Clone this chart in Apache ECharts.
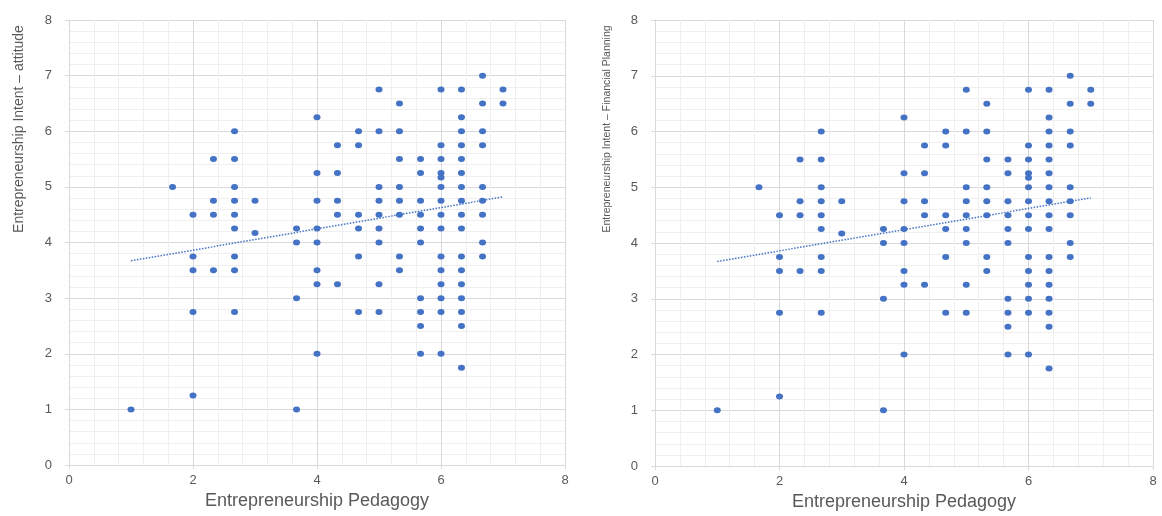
<!DOCTYPE html>
<html>
<head>
<meta charset="utf-8">
<script src="https://cdn.jsdelivr.net/npm/echarts@6/dist/echarts.min.js"></script>
<style>
html,body{margin:0;padding:0;background:#fff;}
#chart{width:1162px;height:516px;}
</style>
</head>
<body>
<div id="chart"></div>
<script>
// ---- Data ----
const xAxisTitle = "Entrepreneurship Pedagogy";
const leftYTitle = "Entrepreneurship Intent – attitude";
const rightYTitle = "Entrepreneurship Intent – Financial Planning";

// Pedagogy score levels (x) and the intent scores seen in each column
const pedagogyLevels = [1, 1.67, 2, 2.33, 2.67, 3, 3.67, 4, 4.33, 4.67, 5, 5.33, 5.67, 6, 6.33, 6.67, 7];

const attitudeByLevel = [
  [1],
  [5],
  [4.5, 3.75, 3.5, 2.75, 1.25],
  [5.5, 4.75, 4.5, 3.5],
  [6, 5.5, 5, 4.75, 4.5, 4.25, 3.75, 3.5, 2.75],
  [4.75, 4.17],
  [4.25, 4, 3, 1],
  [6.25, 5.25, 4.75, 4.25, 4, 3.5, 3.25, 2],
  [5.75, 5.25, 4.75, 4.5, 3.25],
  [6, 5.75, 4.5, 4.25, 3.75, 2.75],
  [6.75, 6, 5, 4.75, 4.5, 4.25, 4, 3.25, 2.75],
  [6.5, 6, 5.5, 5, 4.75, 4.5, 3.75, 3.5],
  [5.5, 5.25, 4.75, 4.5, 4.25, 4, 3, 2.75, 2.5, 2],
  [6.75, 5.75, 5.5, 5.25, 5.17, 5, 4.75, 4.5, 4.25, 3.75, 3.5, 3.25, 3, 2.75, 2],
  [6.75, 6.25, 6, 5.75, 5.5, 5.25, 5, 4.75, 4.5, 4.25, 3.75, 3.5, 3.25, 3, 2.75, 2.5, 1.75],
  [7, 6.5, 6, 5.75, 5, 4.75, 4.5, 4, 3.75],
  [6.75, 6.5]
];

const financialByLevel = [
  [1],
  [5],
  [4.5, 3.75, 3.5, 2.75, 1.25],
  [5.5, 4.75, 4.5, 3.5],
  [6, 5.5, 5, 4.75, 4.5, 4.25, 3.75, 3.5, 2.75],
  [4.75, 4.17],
  [4.25, 4, 3, 1],
  [6.25, 5.25, 4.75, 4.25, 4, 3.5, 3.25, 2],
  [5.75, 5.25, 4.75, 4.5, 3.25],
  [6, 5.75, 4.5, 4.25, 3.75, 2.75],
  [6.75, 6, 5, 4.75, 4.5, 4.25, 4, 3.25, 2.75],
  [6.5, 6, 5.5, 5, 4.75, 4.5, 3.75, 3.5],
  [5.5, 5.25, 4.75, 4.5, 4.25, 4, 3, 2.75, 2.5, 2],
  [6.75, 5.75, 5.5, 5.25, 5.17, 5, 4.75, 4.5, 4.25, 3.75, 3.5, 3.25, 3, 2.75, 2],
  [6.75, 6.25, 6, 5.75, 5.5, 5.25, 5, 4.75, 4.5, 4.25, 3.75, 3.5, 3.25, 3, 2.75, 2.5, 1.75],
  [7, 6.5, 6, 5.75, 5, 4.75, 4.5, 4, 3.75],
  [6.75, 6.5]
];

// Linear trendline end points
const trendX = [1, 7];
const leftTrendY = [3.67, 4.82];
const rightTrendY = [3.67, 4.81];

// ---- Build series data ----
function pairs(levels, byLevel) {
  const out = [];
  levels.forEach((x, i) => byLevel[i].forEach(y => out.push([x, y])));
  return out;
}
const leftPoints = pairs(pedagogyLevels, attitudeByLevel);
const rightPoints = pairs(pedagogyLevels, financialByLevel);
const leftTrend = trendX.map((x, i) => [x, leftTrendY[i]]);
const rightTrend = trendX.map((x, i) => [x, rightTrendY[i]]);

const FONT_NAME = "'Liberation Sans', Arial, sans-serif";
const labelColor = "#595959";
const majorColor = "#d9d9d9";
const minorColor = "#efefef";
const dotColor = "#4472C4";

function xAxis(gridIndex) {
  return {
    type: 'value', gridIndex, min: 0, max: 8, interval: 2,
    name: xAxisTitle, nameLocation: 'middle', nameGap: 26,
    nameTextStyle: {color: labelColor, fontSize: 18, fontFamily: FONT_NAME},
    axisLine: {show: true, lineStyle: {color: majorColor, width: 1}},
    axisTick: {show: true, length: 4, lineStyle: {color: majorColor}},
    axisLabel: {color: labelColor, fontSize: 13, fontFamily: FONT_NAME, margin: 9},
    splitLine: {show: true, lineStyle: {color: majorColor, width: 1}},
    minorTick: {show: false, splitNumber: 5},
    minorSplitLine: {show: true, lineStyle: {color: minorColor, width: 1}}
  };
}
function yAxis(gridIndex) {
  return {
    type: 'value', gridIndex, min: 0, max: 8, interval: 1,
    axisLine: {show: true, lineStyle: {color: majorColor, width: 1}},
    axisTick: {show: true, length: 4, lineStyle: {color: majorColor}},
    axisLabel: {color: labelColor, fontSize: 13, fontFamily: FONT_NAME, margin: 17},
    splitLine: {show: true, lineStyle: {color: majorColor, width: 1}},
    minorTick: {show: false, splitNumber: 5},
    minorSplitLine: {show: true, lineStyle: {color: minorColor, width: 1}}
  };
}

const chart = echarts.init(document.getElementById('chart'), null, {renderer: 'canvas'});
chart.setOption({
  animation: false,
  backgroundColor: '#ffffff',
  grid: [
    {left: 69, top: 20, width: 496, height: 445},
    {left: 655, top: 20, width: 498, height: 447}
  ],
  xAxis: [xAxis(0), xAxis(1)],
  yAxis: [yAxis(0), yAxis(1)],
  graphic: [
    {type: 'text', x: 19, y: 129, rotation: Math.PI / 2,
     style: {text: leftYTitle, fill: labelColor, font: "14px " + FONT_NAME,
             align: 'center', verticalAlign: 'middle'}},
    {type: 'text', x: 607, y: 129, rotation: Math.PI / 2,
     style: {text: rightYTitle, fill: labelColor, font: "10.5px " + FONT_NAME,
             align: 'center', verticalAlign: 'middle'}}
  ],
  series: [
    {type: 'scatter', xAxisIndex: 0, yAxisIndex: 0, data: leftPoints,
     symbolSize: [7, 6], itemStyle: {color: dotColor, opacity: 1}},
    {type: 'line', xAxisIndex: 0, yAxisIndex: 0, data: leftTrend, symbol: 'none',
     lineStyle: {color: dotColor, width: 1.5, type: [1.5, 1.5]}},
    {type: 'scatter', xAxisIndex: 1, yAxisIndex: 1, data: rightPoints,
     symbolSize: [7, 6], itemStyle: {color: dotColor, opacity: 1}},
    {type: 'line', xAxisIndex: 1, yAxisIndex: 1, data: rightTrend, symbol: 'none',
     lineStyle: {color: dotColor, width: 1.5, type: [1.5, 1.5]}}
  ]
});
</script>
</body>
</html>
